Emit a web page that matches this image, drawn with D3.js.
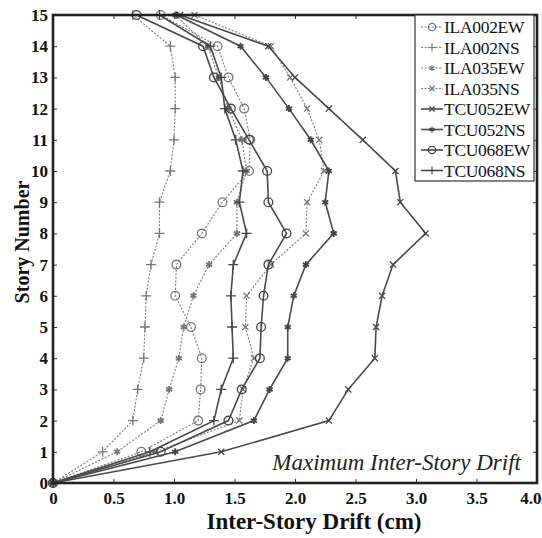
<!DOCTYPE html>
<html>
<head>
<meta charset="utf-8">
<script src="https://cdn.jsdelivr.net/npm/d3@7"></script>
<style>
  body { margin: 0; background: #fff; }
  svg { display: block; }
  .tick text { font-family: "Liberation Serif", "Times New Roman", serif; font-weight: bold; font-size: 17px; fill: #111; }
</style>
</head>
<body>
<script>
const stories = [0, 1, 2, 3, 4, 5, 6, 7, 8, 9, 10, 11, 12, 13, 14, 15];
const seriesNames = ["ILA002EW", "ILA002NS", "ILA035EW", "ILA035NS",
  "TCU052EW", "TCU052NS", "TCU068EW", "TCU068NS"];

const ila002EW = [0, 0.73, 1.20, 1.22, 1.23, 1.14, 1.01, 1.02, 1.23, 1.40, 1.62, 1.63, 1.58, 1.45, 1.36, 0.89];
const ila002NS = [0, 0.41, 0.66, 0.70, 0.75, 0.76, 0.77, 0.81, 0.88, 0.88, 0.97, 1.00, 1.01, 1.01, 0.97, 0.66];
const ila035EW = [0, 0.53, 0.89, 0.96, 1.04, 1.08, 1.16, 1.29, 1.52, 1.52, 1.60, 1.56, 1.45, 1.37, 1.28, 1.01];
const ila035NS = [0, 0.85, 1.54, 1.57, 1.66, 1.59, 1.60, 1.80, 2.09, 2.10, 2.24, 2.20, 2.10, 1.96, 1.80, 1.17];
const tcu052EW = [0, 1.39, 2.28, 2.44, 2.66, 2.67, 2.72, 2.81, 3.08, 2.87, 2.83, 2.56, 2.28, 2.00, 1.78, 1.05];
const tcu052NS = [0, 1.01, 1.66, 1.79, 1.94, 1.94, 1.99, 2.09, 2.32, 2.25, 2.28, 2.13, 1.95, 1.76, 1.55, 1.02];
const tcu068EW = [0, 0.89, 1.45, 1.56, 1.71, 1.72, 1.74, 1.78, 1.93, 1.78, 1.77, 1.62, 1.47, 1.33, 1.24, 0.69];
const tcu068NS = [0, 0.80, 1.33, 1.39, 1.49, 1.48, 1.47, 1.49, 1.60, 1.54, 1.57, 1.51, 1.42, 1.39, 1.30, 0.88];

const xTicks = [0, 0.5, 1.0, 1.5, 2.0, 2.5, 3.0, 3.5, 4.0];
const xTickLabels = ["0", "0.5", "1.0", "1.5", "2.0", "2.5", "3.0", "3.5", "4.0"];

const allValues = [ila002EW, ila002NS, ila035EW, ila035NS, tcu052EW, tcu052NS, tcu068EW, tcu068NS];

// marker + line style for each series
const styles = [
  { sym: "circle", dash: true },
  { sym: "plus", dash: true },
  { sym: "star", dash: true },
  { sym: "x", dash: true },
  { sym: "x", dash: false },
  { sym: "star", dash: false },
  { sym: "circle", dash: false },
  { sym: "plus", dash: false }
];

let series = seriesNames.map(function(name, i) {
  return {
    name: name,
    style: styles[i],
    points: stories.map(function(s, j) { return { story: s, drift: allValues[i][j] }; })
  };
});

let margin = { top: 15, right: 5, bottom: 55, left: 53 },
  width = 542 - margin.left - margin.right,
  height = 538 - margin.top - margin.bottom;

let x = d3.scaleLinear().domain([0, 4]).range([0, width]);
let y = d3.scaleLinear().domain([0, 15]).range([height, 0]);

let svg = d3.select("body")
  .append("svg")
  .attr("width", 542)
  .attr("height", 538)
  .append("g")
  .attr("transform", "translate(" + margin.left + "," + margin.top + ")");

// axes, ticks pointing inward
let xAxis = svg.append("g")
  .attr("transform", "translate(0," + height + ")")
  .call(d3.axisBottom(x).tickValues(xTicks).tickSize(-4).tickPadding(9)
    .tickFormat(function(d, i) { return xTickLabels[i]; }));

// last label sits flush against the page edge
xAxis.selectAll(".tick text")
  .filter(function(d) { return d === 4; })
  .attr("text-anchor", "end")
  .attr("dx", "4px");

svg.append("g")
  .call(d3.axisLeft(y).ticks(15).tickSize(-4).tickPadding(5));

svg.append("g")
  .call(d3.axisTop(x).tickValues(xTicks).tickSize(-4).tickFormat(""));

svg.append("g")
  .attr("transform", "translate(" + width + ",0)")
  .call(d3.axisRight(y).ticks(15).tickSize(-4).tickFormat(""));

svg.selectAll(".domain").remove();
svg.selectAll(".tick line").attr("stroke", "#333");

let line = d3.line()
  .x(function(d) { return x(d.drift); })
  .y(function(d) { return y(d.story); });

function symbolPath(kind, small) {
  let k = small ? 0.7 : 1;
  if (kind === "circle") return d3.symbol(d3.symbolCircle, 60 * k)();
  if (kind === "plus") return d3.symbol(d3.symbolPlus, 34 * k)();
  if (kind === "x") return d3.symbol(d3.symbolX, 26 * k)();
  return d3.symbol(d3.symbolAsterisk, 34 * k)();
}

let group = svg.selectAll(".series")
  .data(series)
  .enter()
  .append("g")
  .attr("class", "series");

group.append("path")
  .attr("d", function(d) { return line(d.points); })
  .attr("fill", "none")
  .attr("stroke", function(d) { return d.style.dash ? "#7a7a7a" : "#4a4a4a"; })
  .attr("stroke-width", function(d) { return d.style.dash ? 1.1 : 1.6; })
  .attr("stroke-dasharray", function(d) { return d.style.dash ? "2,1.6" : null; });

group.selectAll(".mark")
  .data(function(d) { return d.points.map(function(p) { return { p: p, s: d.style }; }); })
  .enter()
  .append("path")
  .attr("class", "mark")
  .attr("transform", function(d) { return "translate(" + x(d.p.drift) + "," + y(d.p.story) + ")"; })
  .attr("d", function(d) { return symbolPath(d.s.sym); })
  .attr("fill", function(d) { return d.s.sym === "star" ? (d.s.dash ? "#666" : "#333") : "none"; })
  .attr("stroke", function(d) { return d.s.dash ? "#777" : "#444"; })
  .attr("stroke-width", function(d) { return d.s.sym === "star" ? 1.8 : 1.3; });

// frame
svg.append("rect")
  .attr("width", width)
  .attr("height", height)
  .attr("fill", "none")
  .attr("stroke", "#222")
  .attr("stroke-width", 2.6);

// legend
let lg = svg.append("g").attr("transform", "translate(" + (width - 122) + ",0)");
lg.append("rect")
  .attr("width", 119)
  .attr("height", 166)
  .attr("fill", "#fff")
  .attr("stroke", "#333")
  .attr("stroke-width", 1.2);

let item = lg.selectAll(".legend")
  .data(series)
  .enter()
  .append("g")
  .attr("class", "legend")
  .attr("transform", function(d, i) { return "translate(0," + (12 + i * 20.5) + ")"; });

item.append("line")
  .attr("x1", 6).attr("x2", 28)
  .attr("stroke", function(d) { return d.style.dash ? "#7a7a7a" : "#4a4a4a"; })
  .attr("stroke-width", function(d) { return d.style.dash ? 1.1 : 1.6; })
  .attr("stroke-dasharray", function(d) { return d.style.dash ? "2,1.6" : null; });

item.append("path")
  .attr("transform", "translate(17,0)")
  .attr("d", function(d) { return symbolPath(d.style.sym, true); })
  .attr("fill", function(d) { return d.style.sym === "star" ? (d.style.dash ? "#666" : "#333") : "none"; })
  .attr("stroke", function(d) { return d.style.dash ? "#777" : "#444"; })
  .attr("stroke-width", 1.2);

item.append("text")
  .attr("x", 29)
  .attr("dy", "0.35em")
  .style("font-family", "'Liberation Serif', serif")
  .style("font-size", "17.5px")
  .style("letter-spacing", "-0.3px")
  .style("fill", "#111")
  .text(function(d) { return d.name; });

// annotation
svg.append("text")
  .attr("x", width - 16)
  .attr("y", height - 13)
  .style("text-anchor", "end")
  .style("font-family", "'Liberation Serif', serif")
  .style("font-style", "italic")
  .style("font-size", "23px")
  .style("fill", "#222")
  .text("Maximum Inter-Story Drift");

// axis titles
svg.append("text")
  .attr("x", 261)
  .attr("y", height + 46)
  .style("text-anchor", "middle")
  .style("font-family", "'Liberation Serif', serif")
  .style("font-weight", "bold")
  .style("font-size", "23px")
  .style("fill", "#111")
  .text("Inter-Story Drift (cm)");

svg.append("text")
  .attr("transform", "rotate(-90)")
  .attr("x", -(242 - margin.top))
  .attr("y", -24)
  .style("text-anchor", "middle")
  .style("font-family", "'Liberation Serif', serif")
  .style("font-weight", "bold")
  .style("font-size", "20px")
  .style("fill", "#111")
  .text("Story Number");
</script>
</body>
</html>
